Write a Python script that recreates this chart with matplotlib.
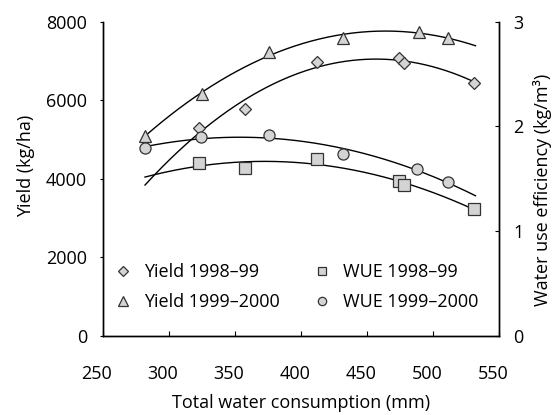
import numpy as np
import matplotlib
matplotlib.use("Agg")
import matplotlib.pyplot as plt
from matplotlib.transforms import ScaledTranslation

plt.rcParams['font.family'] = ['Open Sans', 'DejaVu Sans']
plt.rcParams['font.size'] = 13

# total water consumption (mm) and values
x_y98 = [323, 358, 412, 474, 478, 531]
yield_98 = [5300, 5770, 6980, 7080, 6940, 6450]
x_y99 = [282, 325, 376, 432, 489, 511]
yield_99 = [5090, 6160, 7240, 7590, 7730, 7590]
x_w98 = [323, 358, 412, 474, 478, 531]
wue_98 = [1.65, 1.60, 1.69, 1.48, 1.44, 1.21]
x_w99 = [282, 324, 376, 432, 488, 511]
wue_99 = [1.79, 1.90, 1.92, 1.74, 1.59, 1.47]

fill = '#d4d4d4'
edge = '#333333'

fig = plt.figure(figsize=(5.57, 4.15), dpi=100)
ax = fig.add_axes([102.7/557, 79/415, 396.6/557, 314.3/415])
ax2 = ax.twinx()

xs = np.linspace(282, 532, 200)

def trend(a, xd, yd):
    c = np.polyfit(xd, yd, 2)
    a.plot(xs, np.polyval(c, xs), color='black', lw=1, zorder=1)

trend(ax, x_y98, yield_98)
trend(ax, x_y99, yield_99)
trend(ax2, x_w98, wue_98)
trend(ax2, x_w99, wue_99)

h1, = ax.plot(x_y98, yield_98, 'D', ms=6.5, mfc=fill, mec=edge, mew=0.9, ls='none', zorder=3)
h2, = ax.plot(x_y99, yield_99, '^', ms=9, mfc=fill, mec=edge, mew=0.9, ls='none', zorder=3)
h3, = ax2.plot(x_w98, wue_98, 's', ms=8, mfc=fill, mec=edge, mew=0.9, ls='none', zorder=3)
h4, = ax2.plot(x_w99, wue_99, 'o', ms=8, mfc=fill, mec=edge, mew=0.9, ls='none', zorder=3)

ax.set_xlim(250, 550)
ax.set_ylim(0, 8000)
ax2.set_ylim(0, 3)
ax.set_xticks([250, 300, 350, 400, 450, 500, 550])
ax.set_yticks([0, 2000, 4000, 6000, 8000])
ax2.set_yticks([0, 1, 2, 3])

for a in (ax, ax2):
    a.spines['top'].set_visible(False)
    for s in a.spines.values():
        s.set_linewidth(1)

ax.tick_params(axis='x', direction='in', length=3.3, pad=21)
ax.tick_params(axis='y', direction='out', length=2.2, pad=9)
ax2.tick_params(axis='y', direction='in', length=3, pad=10)

# x tick labels sit a little left of their ticks in the original
shift = ScaledTranslation(-0.06, 0, fig.dpi_scale_trans)
for lab in ax.get_xticklabels():
    lab.set_transform(lab.get_transform() + shift)

ax.set_xlabel('Total water consumption (mm)', va='center')
ax.xaxis.set_label_coords(0.5, -0.213)
ax.set_ylabel('Yield (kg/ha)', va='center')
ax.yaxis.set_label_coords(-0.193, 0.541)
ax2.set_ylabel('Water use efficiency (kg/m³)', va='center', rotation=90)
ax2.yaxis.set_label_coords(1.108, 0.465)

leg1 = ax2.legend([h1, h2], ['Yield 1998–99', 'Yield 1999–2000'], loc='lower left',
                  bbox_to_anchor=(0.0275, 0.08), frameon=False, borderpad=0,
                  borderaxespad=0, handlelength=1, handletextpad=0.7,
                  labelspacing=0.65, markerscale=0.75)
ax2.add_artist(leg1)
ax2.legend([h3, h4], ['WUE 1998–99', 'WUE 1999–2000'], loc='lower left',
           bbox_to_anchor=(0.5295, 0.08), frameon=False, borderpad=0,
           borderaxespad=0, handlelength=1, handletextpad=0.7,
           labelspacing=0.65, markerscale=0.75)

plt.savefig('out.png', dpi=100)
